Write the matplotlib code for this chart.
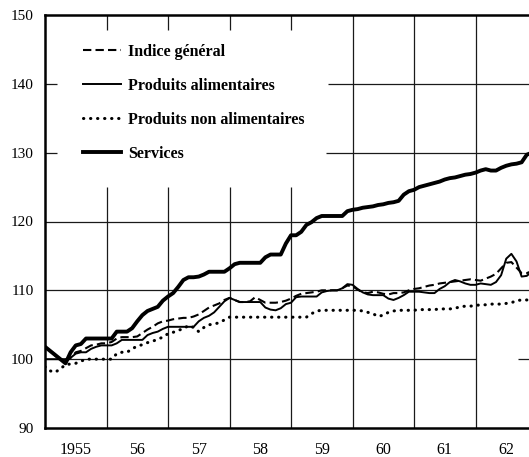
import numpy as np
import matplotlib.pyplot as plt

plt.rcParams['font.family'] = ['Liberation Serif', 'DejaVu Serif']

# Indices mensuels des prix, janvier 1955 -> fin 1962
indice_general = [
    101.8, 101.2, 100.5, 100.0, 99.6, 100.2, 101.0, 101.2, 101.6, 102.0,
    102.1, 102.3, 102.3, 102.5, 103.0, 103.2, 103.2, 103.2, 103.3, 103.8,
    104.3, 104.7, 105.2, 105.5, 105.6, 105.8, 105.9, 106.0, 106.0, 106.2,
    106.5, 107.0, 107.5, 107.8, 108.1, 108.6, 108.9, 108.6, 108.3, 108.3,
    108.4, 109.0, 108.6, 108.2, 108.2, 108.2, 108.3, 108.5, 108.8, 109.2,
    109.5, 109.6, 109.7, 109.8, 110.0, 110.0, 110.0, 110.0, 110.3, 110.7,
    110.6, 110.1, 109.7, 109.6, 109.8, 109.7, 109.5, 109.4, 109.6, 109.6,
    109.7, 110.0, 110.2, 110.3, 110.5, 110.7, 110.8, 111.0, 111.1, 111.2,
    111.3, 111.4, 111.5, 111.6, 111.5, 111.4, 111.7, 112.0, 112.4, 113.2,
    114.0, 114.1, 113.3, 112.5, 112.5, 112.8,
]
produits_alimentaires = [
    100.0, 100.0, 100.0, 100.0, 100.0, 100.2, 100.8, 101.0, 101.0, 101.5,
    101.8, 102.0, 102.0, 102.0, 102.3, 102.8, 102.8, 102.8, 102.8, 102.8,
    103.5, 103.8, 104.0, 104.4, 104.7, 104.7, 104.7, 104.7, 104.7, 104.7,
    105.5, 106.0, 106.3, 106.8, 107.6, 108.4, 108.9, 108.6, 108.3, 108.3,
    108.3, 108.3, 108.3, 107.5, 107.2, 107.1, 107.4, 108.0, 108.2, 109.0,
    109.1, 109.1, 109.1, 109.1, 109.7, 109.9, 110.0, 110.0, 110.3, 110.9,
    110.8, 110.2, 109.7, 109.4, 109.3, 109.3, 109.3, 108.8, 108.6, 108.9,
    109.3, 109.8, 109.8, 109.8, 109.7, 109.6, 109.6, 110.2, 110.6, 111.2,
    111.5, 111.3, 111.0, 110.8, 110.8, 111.0, 110.9, 110.8, 111.2, 112.2,
    114.6, 115.3, 114.2, 112.0, 112.1, 112.7,
]
produits_non_alimentaires = [
    98.9, 98.3, 98.1, 98.6, 99.2, 99.3, 99.4, 99.7, 100.0, 100.0,
    100.0, 100.0, 100.0, 100.0, 100.8, 101.0, 101.0, 101.5, 101.9, 102.1,
    102.4, 102.6, 102.9, 103.2, 103.7, 103.9, 104.2, 104.4, 104.9, 104.6,
    104.0, 104.6, 105.0, 105.1, 105.3, 105.7, 106.1, 106.1, 106.1, 106.1,
    106.1, 106.1, 106.1, 106.1, 106.1, 106.1, 106.1, 106.1, 106.1, 106.1,
    106.1, 106.1, 106.6, 107.0, 107.1, 107.1, 107.1, 107.1, 107.1, 107.1,
    107.1, 107.1, 107.0, 106.8, 106.6, 106.2, 106.4, 106.8, 107.0, 107.1,
    107.1, 107.1, 107.1, 107.2, 107.2, 107.2, 107.2, 107.3, 107.3, 107.3,
    107.4, 107.6, 107.7, 107.7, 107.8, 107.9, 107.9, 108.0, 108.0, 108.0,
    108.1, 108.2, 108.5, 108.6, 108.6, 108.6,
]
services = [
    101.8, 101.2, 100.6, 100.0, 99.4, 101.0, 102.0, 102.2, 103.0, 103.0,
    103.0, 103.0, 103.0, 103.0, 104.0, 104.0, 104.0, 104.5, 105.5, 106.4,
    107.0, 107.3, 107.6, 108.5, 109.1, 109.6, 110.5, 111.5, 111.9, 111.9,
    112.0, 112.3, 112.7, 112.7, 112.7, 112.7, 113.2, 113.8, 114.0, 114.0,
    114.0, 114.0, 114.0, 114.8, 115.2, 115.2, 115.2, 116.8, 118.0, 118.0,
    118.5, 119.5, 119.9, 120.5, 120.8, 120.8, 120.8, 120.8, 120.8, 121.5,
    121.7, 121.8, 122.0, 122.1, 122.2, 122.4, 122.5, 122.7, 122.8, 123.0,
    123.9, 124.4, 124.6, 125.0, 125.2, 125.4, 125.6, 125.8, 126.1, 126.3,
    126.4, 126.6, 126.8, 126.9, 127.1, 127.4, 127.6, 127.4, 127.4, 127.8,
    128.1, 128.3, 128.4, 128.6, 129.7, 130.0,
]

years = [1955, 1956, 1957, 1958, 1959, 1960, 1961, 1962]
year_labels = ['1955', '56', '57', '58', '59', '60', '61', '62']
y_ticks = [90, 100, 110, 120, 130, 140, 150]

months = 1955 + np.arange(len(services)) / 12

fig = plt.figure(figsize=(5.29, 4.57), dpi=100)
ax = fig.add_axes([45 / 529, 1 - 428 / 457, 484 / 529, 413 / 457])
x_end = 1955 + 484 / 61.5
ax.set_xlim(1955, x_end)
ax.set_ylim(90, 150)

# quadrillage, interrompu autour de la légende
gc = '#1a1a1a'
glw = 0.9
for y in [110, 120]:
    ax.hlines(y, 1955, x_end, color=gc, lw=glw, zorder=1)
ax.hlines(100, 1955, 1962, color=gc, lw=glw, zorder=1)
ax.hlines(100, 1962.69, x_end, color=gc, lw=glw, zorder=1)
for y, x0 in [(140, 1959.6), (130, 1959.57)]:
    ax.hlines(y, x0, x_end, color=gc, lw=glw, zorder=1)
    ax.hlines(y, 1955, 1955.2, color=gc, lw=glw, zorder=1)
for yr in years[1:]:
    if yr < 1960:
        ax.vlines(yr, 90, 125.0, color=gc, lw=glw, zorder=1)
        ax.vlines(yr, 147.8, 150, color=gc, lw=glw, zorder=1)
    else:
        ax.vlines(yr, 90, 150, color=gc, lw=glw, zorder=1)

ax.plot(months, indice_general, color='black', lw=1.5, ls=(0, (4, 2)),
        label='Indice général', zorder=3)
ax.plot(months, produits_alimentaires, color='black', lw=1.4,
        label='Produits alimentaires', zorder=3)
ax.plot(months, produits_non_alimentaires, color='black', lw=2.2,
        ls=(0, (0.1, 2.2)), dash_capstyle='round',
        label='Produits non alimentaires', zorder=3)
ax.plot(months, services, color='black', lw=2.8,
        label='Services', zorder=4)

for side in ['left', 'bottom', 'top']:
    ax.spines[side].set_linewidth(1.8)
ax.spines['right'].set_visible(False)

ax.set_yticks(y_ticks)
ax.set_yticklabels([str(v) for v in y_ticks], fontsize=11)
ax.tick_params(axis='y', length=0, pad=8)
ax.set_xticks([])
ax.set_xticks([y + 0.5 for y in years], minor=True)
ax.set_xticklabels(year_labels, minor=True, fontsize=11.5)
ax.tick_params(axis='x', which='minor', length=0, pad=10)

leg = ax.legend(loc='upper left', bbox_to_anchor=(0.078, 0.93),
                frameon=False, borderpad=0, borderaxespad=0,
                handlelength=2.4, handletextpad=0.45, labelspacing=1.12,
                prop={'weight': 'bold', 'size': 11.5})

fig.savefig('out.png', dpi=100)
